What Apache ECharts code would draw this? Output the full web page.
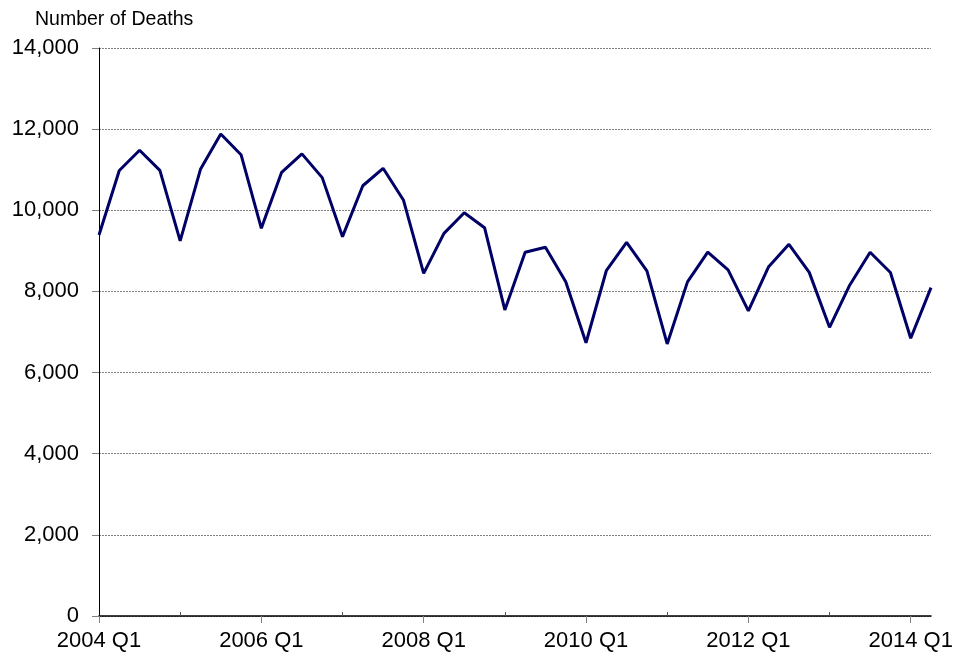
<!DOCTYPE html>
<html>
<head>
<meta charset="utf-8">
<script src="https://cdn.jsdelivr.net/npm/echarts@6/dist/echarts.min.js"></script>
<style>
  html, body { margin: 0; padding: 0; background: #fff; }
  #chart { width: 953px; height: 656px; }
</style>
</head>
<body>
<div id="chart"></div>
<script>
// quarters 2004 Q1 .. 2014 Q2
var quarters = [];
for (var y = 2004; y <= 2014; y++) {
    for (var q = 1; q <= 4; q++) {
        if (y === 2014 && q > 2) break;
        quarters.push(y + ' Q' + q);
    }
}

// deaths per quarter
var deaths = [
    9390, 10980, 11480, 10985,
    9245, 11010, 11880, 11370,
    9555, 10935, 11390, 10805,
    9350, 10605, 11035, 10255,
    8445, 9430, 9940, 9570,
    7545, 8965, 9090, 8240,
    6735, 8510, 9210, 8505,
    6705, 8235, 8970, 8530,
    7520, 8610, 9160, 8470,
    7115, 8160, 8965, 8465,
    6845, 8095
];

var yTicks = { min: 0, max: 14000, interval: 2000 };

var chart = echarts.init(document.getElementById('chart'));

var option = {
    animation: false,
    backgroundColor: '#fff',
    textStyle: { fontFamily: 'Liberation Sans, Arial, sans-serif' },
    title: {
        text: 'Number of Deaths',
        left: 30,
        top: 5,
        textStyle: { fontSize: 19.5, fontWeight: 'normal', color: '#000' }
    },
    grid: { left: 99, right: 22, top: 48, bottom: 40, outerBoundsMode: 'none', containLabel: false },
    xAxis: [{
        type: 'category',
        data: quarters,
        boundaryGap: false,
        axisLine: { lineStyle: { color: '#000', width: 1.5 } },
        axisTick: {
            alignWithLabel: true,
            interval: function (i) { return i % 8 === 0; },
            length: 7,
            lineStyle: { color: '#808080' }
        },
        axisLabel: {
            interval: 7,
            margin: 14,
            fontSize: 22,
            color: '#000'
        },
        splitLine: { show: false }
    }, {
        type: 'category',
        data: quarters,
        boundaryGap: false,
        position: 'bottom',
        axisLine: { show: false },
        axisTick: {
            inside: true,
            interval: function (i) { return i % 8 === 4; },
            length: 4,
            lineStyle: { color: '#555' }
        },
        axisLabel: { show: false },
        splitLine: { show: false }
    }],
    yAxis: {
        type: 'value',
        min: yTicks.min,
        max: yTicks.max,
        interval: yTicks.interval,
        axisLine: { show: true, lineStyle: { color: '#000', width: 1 } },
        axisTick: { show: true, length: 7, lineStyle: { color: '#808080' } },
        axisLabel: {
            margin: 20,
            fontSize: 22,
            color: '#000',
            formatter: function (v) { return v.toLocaleString('en-US'); }
        },
        splitLine: { lineStyle: { color: '#808080', type: [2, 1], width: 1 } }
    },
    series: [{
        type: 'line',
        data: deaths,
        xAxisIndex: 0,
        symbol: 'none',
        lineStyle: { color: '#000066', width: 3 }
    }]
};

chart.setOption(option);
</script>
</body>
</html>
